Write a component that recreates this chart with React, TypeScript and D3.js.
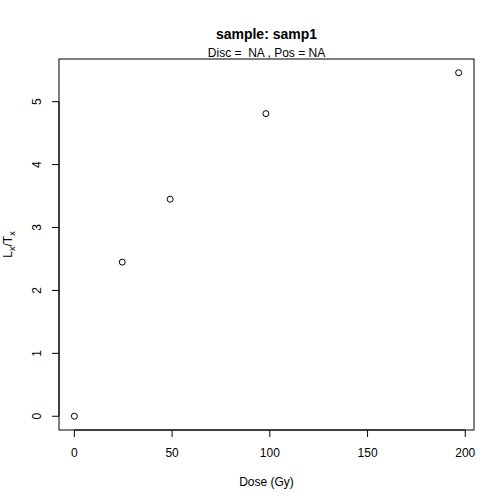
import { useEffect, useRef } from "react";
import * as d3 from "d3";

const doses = [0, 24.5, 49, 98, 196.6];
const lxtx = [0, 2.45, 3.45, 4.81, 5.46];
const xTicks = [0, 50, 100, 150, 200];
const yTicks = [0, 1, 2, 3, 4, 5];

const W = 504;
const H = 504;
const margin = { top: 59, right: 30, bottom: 74, left: 59 };
const font = "'Liberation Sans', Arial, Helvetica, sans-serif";

export default function App() {
  const svgRef = useRef<SVGSVGElement>(null);

  useEffect(() => {
    if (!svgRef.current) return;
    const svg = d3.select(svgRef.current);
    svg.selectAll("*").remove();

    const x0 = margin.left;
    const x1 = W - margin.right;
    const y0 = margin.top;
    const y1 = H - margin.bottom;

    // R style 4% padding on each side
    const xMax = d3.max(doses)!;
    const yMax = d3.max(lxtx)!;
    const xPad = xMax * 0.04;
    const yPad = yMax * 0.04;

    const x = d3.scaleLinear().domain([-xPad, xMax + xPad]).range([x0, x1]);
    const y = d3.scaleLinear().domain([-yPad, yMax + yPad]).range([y1, y0]);

    // box
    svg.append("rect")
      .attr("x", x0)
      .attr("y", y0)
      .attr("width", x1 - x0)
      .attr("height", y1 - y0)
      .attr("fill", "none")
      .attr("stroke", "#000")
      .attr("stroke-width", 1);

    // x axis
    const xa = svg.append("g").attr("transform", `translate(0,${y1})`);
    xa.append("line")
      .attr("x1", x(xTicks[0]))
      .attr("x2", x(xTicks[xTicks.length - 1]))
      .attr("stroke", "#000");
    xa.selectAll("line.tick")
      .data(xTicks)
      .join("line")
      .attr("class", "tick")
      .attr("x1", d => x(d))
      .attr("x2", d => x(d))
      .attr("y1", 0)
      .attr("y2", 7)
      .attr("stroke", "#000");
    xa.selectAll("text")
      .data(xTicks)
      .join("text")
      .attr("x", d => x(d))
      .attr("y", 27)
      .attr("text-anchor", "middle")
      .attr("font-family", font)
      .attr("font-size", 12)
      .text(d => d);

    // y axis
    const ya = svg.append("g").attr("transform", `translate(${x0},0)`);
    ya.append("line")
      .attr("y1", y(yTicks[0]))
      .attr("y2", y(yTicks[yTicks.length - 1]))
      .attr("stroke", "#000");
    ya.selectAll("line.tick")
      .data(yTicks)
      .join("line")
      .attr("class", "tick")
      .attr("y1", d => y(d))
      .attr("y2", d => y(d))
      .attr("x1", 0)
      .attr("x2", -7)
      .attr("stroke", "#000");
    ya.selectAll("text")
      .data(yTicks)
      .join("text")
      .attr("transform", d => `translate(-18,${y(d)}) rotate(-90)`)
      .attr("text-anchor", "middle")
      .attr("font-family", font)
      .attr("font-size", 12)
      .text(d => d);

    // points
    svg.append("g")
      .selectAll("circle")
      .data(doses.map((d, i) => [d, lxtx[i]]))
      .join("circle")
      .attr("cx", d => x(d[0]))
      .attr("cy", d => y(d[1]))
      .attr("r", 3)
      .attr("fill", "none")
      .attr("stroke", "#000")
      .attr("stroke-width", 1);

    const cx = (x0 + x1) / 2;

    // titles
    svg.append("text")
      .attr("x", cx)
      .attr("y", 39)
      .attr("text-anchor", "middle")
      .attr("font-family", font)
      .attr("font-size", 14)
      .attr("font-weight", "bold")
      .text("sample: samp1");

    svg.append("text")
      .attr("x", cx)
      .attr("y", 57)
      .attr("text-anchor", "middle")
      .attr("font-family", font)
      .attr("font-size", 12)
      .attr("xml:space", "preserve")
      .style("white-space", "pre")
      .text("Disc =  NA , Pos = NA");

    svg.append("text")
      .attr("x", cx)
      .attr("y", 486)
      .attr("text-anchor", "middle")
      .attr("font-family", font)
      .attr("font-size", 12)
      .text("Dose (Gy)");

    // y label with subscripts
    const yl = svg.append("text")
      .attr("transform", `translate(12,${(y0 + y1) / 2}) rotate(-90)`)
      .attr("text-anchor", "middle")
      .attr("font-family", font)
      .attr("font-size", 12);
    yl.append("tspan").text("L");
    yl.append("tspan").attr("font-size", 9).attr("dy", 3).text("x");
    yl.append("tspan").attr("dy", -3).text("/T");
    yl.append("tspan").attr("font-size", 9).attr("dy", 3).text("x");
  }, []);

  return (
    <svg
      ref={svgRef}
      width={W}
      height={H}
      style={{ position: "absolute", left: 0, top: 0, background: "#fff" }}
    />
  );
}
